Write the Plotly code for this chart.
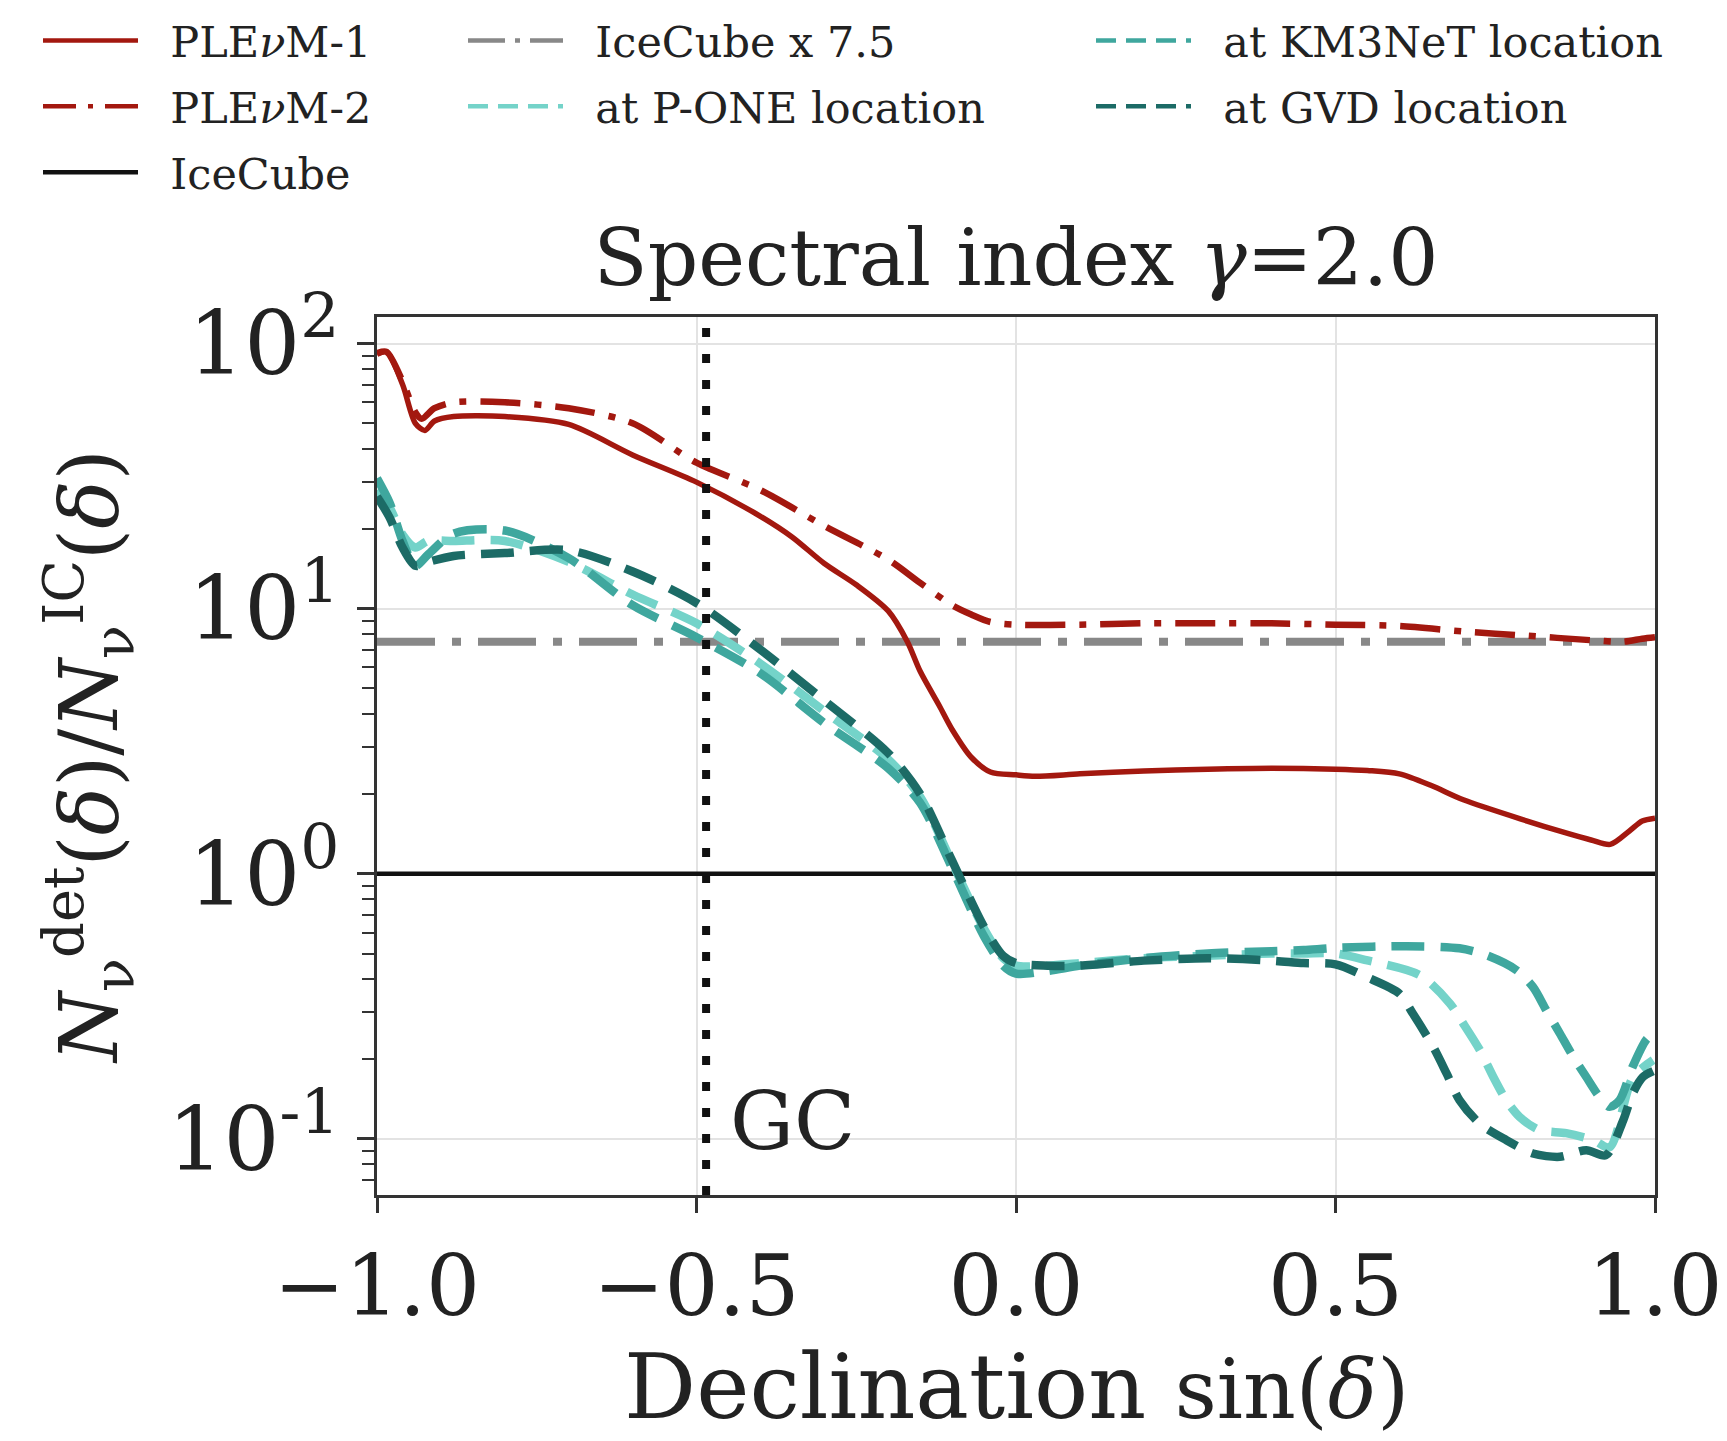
import plotly.graph_objects as go

# ---------------- data ----------------
ple1_x = [-1.0, -0.985, -0.96, -0.94, -0.925, -0.91, -0.88, -0.8, -0.7, -0.6, -0.5, -0.4, -0.35, -0.3,
          -0.25, -0.2, -0.17, -0.15, -0.12, -0.1, -0.07, -0.04, 0.0, 0.03, 0.1, 0.2, 0.3, 0.4, 0.5,
          0.55, 0.6, 0.65, 0.7, 0.8, 0.85, 0.9, 0.93, 0.96, 0.98, 1.0]
ple1_y = [91, 93, 70, 50, 47, 51, 53, 53, 49.5, 38, 30, 22.3, 18.6, 14.8,
          12.3, 9.8, 7.5, 5.8, 4.3, 3.5, 2.75, 2.42, 2.36, 2.33, 2.38, 2.44, 2.48, 2.5, 2.48,
          2.45, 2.38, 2.15, 1.9, 1.58, 1.45, 1.34, 1.29, 1.45, 1.58, 1.62]

ple2_x = [-1.0, -0.985, -0.96, -0.94, -0.93, -0.91, -0.88, -0.8, -0.7, -0.6, -0.5, -0.4, -0.3, -0.2,
          -0.15, -0.1, -0.07, -0.04, 0.0, 0.1, 0.2, 0.3, 0.4, 0.5, 0.6, 0.7, 0.8, 0.9, 0.95, 0.98, 1.0]
ple2_y = [92, 93, 72, 55, 52, 57, 60, 60, 57, 50, 35.5, 28, 20.5, 15.3,
          12.5, 10.3, 9.5, 8.9, 8.7, 8.7, 8.8, 8.8, 8.8, 8.7, 8.6, 8.2, 7.9, 7.6, 7.5, 7.7, 7.8]

icecube_x = [-1.0, 1.0]
icecube_y = [1.0, 1.0]
icecube_scale = 7.5

teal_x = [-1.0, -0.98, -0.96, -0.94, -0.92, -0.88, -0.8, -0.7, -0.6, -0.5, -0.4, -0.3, -0.2, -0.15,
          -0.1, -0.05, -0.02, 0.0, 0.05, 0.1, 0.2, 0.3, 0.4, 0.45, 0.5]
pone_left = [28, 24, 19, 17, 18, 18, 18, 15, 11.3, 8.8, 6.2, 4.1, 2.7, 1.95,
             1.1, 0.62, 0.48, 0.45, 0.45, 0.46, 0.48, 0.49, 0.5, 0.5, 0.5]
km3_left = [31, 25, 18, 14.5, 16, 19.2, 19.7, 15.5, 10.3, 7.8, 5.7, 3.7, 2.5, 1.85,
            1.05, 0.58, 0.45, 0.42, 0.43, 0.45, 0.48, 0.5, 0.51, 0.515, 0.525]
gvd_left = [26.5, 22, 17, 14.5, 15, 15.8, 16.2, 16.6, 13.8, 10.5, 7.0, 4.5, 2.85, 2.0,
            1.12, 0.63, 0.49, 0.46, 0.45, 0.45, 0.47, 0.48, 0.47, 0.46, 0.455]

pone_rx = [0.548, 0.632, 0.679, 0.700, 0.726, 0.747, 0.767, 0.788, 0.819, 0.861, 0.903, 0.929, 0.965, 0.997]
pone_ry = [0.472, 0.414, 0.324, 0.272, 0.216, 0.171, 0.14, 0.121, 0.108, 0.105, 0.099, 0.093, 0.17, 0.198]
km3_rx = [0.611, 0.694, 0.736, 0.783, 0.809, 0.830, 0.851, 0.872, 0.8925, 0.913, 0.929, 0.9446, 0.965, 0.986, 0.997]
km3_ry = [0.533, 0.523, 0.493, 0.433, 0.374, 0.305, 0.25, 0.204, 0.171, 0.144, 0.132, 0.14, 0.187, 0.236, 0.25]
gvd_rx = [0.548, 0.6, 0.621, 0.653, 0.674, 0.694, 0.726, 0.767, 0.809, 0.851, 0.8925, 0.923, 0.95, 0.965, 0.981, 0.997]
gvd_ry = [0.408, 0.353, 0.297, 0.222, 0.176, 0.14, 0.114, 0.099, 0.088, 0.0855, 0.0906, 0.0867, 0.117, 0.148, 0.171, 0.18]

gc_sin = -0.485

x_ticks = [-1.0, -0.5, 0.0, 0.5, 1.0]
x_ticktext = ["\u22121.0", "\u22120.5", "0.0", "0.5", "1.0"]
y_ticks = [0.1, 1, 10, 100]
y_ticktext = ["10<sup>-1</sup>", "10<sup>0</sup>", "10<sup>1</sup>", "10<sup>2</sup>"]

# ---------------- styles ----------------
RED = "#a3180f"
GRAY = "#888888"
BLACK = "#111111"
PONE = "#74d3c9"
KM3 = "#3fa79e"
GVD = "#1c6b66"
FONT = "DejaVu Serif"
TXT = "#222222"

fig = go.Figure()

def line(x, y, color, width, dash):
    fig.add_trace(go.Scatter(x=x, y=y, mode="lines", showlegend=False, hoverinfo="skip",
                             line=dict(color=color, width=width, dash=dash, shape="spline", smoothing=0.8)))

tdash = "33px,16px"
line([-1.0, 1.0], [icecube_scale, icecube_scale], GRAY, 8, "58px,17px,9px,17px")
line(icecube_x, icecube_y, BLACK, 4.5, "solid")
line(teal_x + pone_rx, pone_left + pone_ry, PONE, 8.5, tdash)
line(teal_x + km3_rx, km3_left + km3_ry, KM3, 8.5, tdash)
line(teal_x + gvd_rx, gvd_left + gvd_ry, GVD, 8.5, tdash)
line(ple2_x, ple2_y, RED, 6.5, "40px,14px,7px,14px")
line(ple1_x, ple1_y, RED, 5.5, "solid")

# legend-only entries
PAD = "\u00a0\u00a0"
def leg(name, color, dash, legend):
    fig.add_trace(go.Scatter(x=[None], y=[None], mode="lines", name=PAD + name, legend=legend,
                             legendgroup=name,
                             line=dict(color=color, width=4.5, dash=dash)))

ldash_dd = "33px,12px,5px,12px"
leg("PLE<i>\u03bd</i>M-1", RED, "solid", "legend")
leg("PLE<i>\u03bd</i>M-2", RED, ldash_dd, "legend")
leg("IceCube", BLACK, "solid", "legend")
leg("IceCube x 7.5", GRAY, "37px,10px,5px,10px", "legend2")
leg("at P-ONE location", PONE, "20px,10px", "legend2")
leg("at KM3NeT location", KM3, "20px,10px", "legend3")
leg("at GVD location", GVD, "20px,10px", "legend3")

W, H = 1727, 1441
L, R, T, B = 377, 1655, 317, 1195
PW, PH = R - L, B - T

fig.add_shape(type="line", xref="x", yref="paper", x0=gc_sin, x1=gc_sin, y0=0, y1=1,
              line=dict(color="#111111", width=8, dash="9px,17px"))
fig.add_annotation(text="GC", xref="x", yref="paper", x=gc_sin, y=(B - 1121) / PH,
                   xanchor="left", yanchor="middle", xshift=22, showarrow=False,
                   font=dict(family=FONT, size=80, color=TXT))

# axis titles
fig.add_annotation(text="Declination <span style='font-size:82px'>sin(<i>\u03b4</i>)</span>",
                   xref="paper", yref="paper", x=0.5, y=(B - 1386) / PH,
                   xanchor="center", yanchor="middle", showarrow=False,
                   font=dict(family=FONT, size=90, color=TXT))
fig.add_annotation(text="<i>N</i><sub>\u03bd</sub><sup>det</sup>(<i>\u03b4</i>)/<i>N</i><sub>\u03bd</sub><sup>IC</sup>(<i>\u03b4</i>)",
                   xref="paper", yref="paper", x=(88 - L) / PW, y=(B - 757) / PH,
                   xanchor="center", yanchor="middle", textangle=-90, showarrow=False,
                   font=dict(family=FONT, size=80, color=TXT))

legcommon = dict(xref="container", yref="container", xanchor="left", yanchor="top",
                 bgcolor="rgba(0,0,0,0)", borderwidth=0, itemwidth=95, tracegroupgap=7,
                 font=dict(family=FONT, size=43, color=TXT))
fig.update_layout(
    width=W, height=H,
    margin=dict(l=L, r=W - R, t=T, b=H - B, autoexpand=False),
    paper_bgcolor="white", plot_bgcolor="white",
    font=dict(family=FONT, color=TXT),
    title=dict(text="Spectral index <i>\u03b3</i>=2.0", x=(L + R) / 2 / W, xanchor="center",
               y=1 - 257 / H, yanchor="middle", font=dict(size=79, family=FONT, color=TXT)),
    legend=dict(x=38 / W, y=1 - 6 / H, **legcommon),
    legend2=dict(x=463 / W, y=1 - 6 / H, **legcommon),
    legend3=dict(x=1091 / W, y=1 - 6 / H, **legcommon),
    xaxis=dict(range=[-1, 1], tickvals=x_ticks, ticktext=x_ticktext, showgrid=True,
               gridcolor="#e3e3e3", gridwidth=2, zeroline=False, showline=True, mirror=True,
               linecolor="#333333", linewidth=3, ticks="outside", ticklen=15, tickwidth=2.5,
               tickcolor="#333333", tickfont=dict(size=85, family=FONT, color=TXT),
               automargin=False),
    yaxis=dict(type="log", range=[-1.212, 2.1], tickvals=y_ticks, ticktext=y_ticktext,
               showgrid=True, gridcolor="#e3e3e3", gridwidth=2, zeroline=False, showline=True,
               mirror=True, linecolor="#333333", linewidth=3, ticks="outside", ticklen=17,
               tickwidth=2.5, tickcolor="#333333",
               tickfont=dict(size=88, family=FONT, color=TXT),
               minor=dict(ticks="outside", dtick="D1", ticklen=12, tickwidth=2, tickcolor="#333333",
                          showgrid=False),
               automargin=False),
)

fig.write_html("out.html")
